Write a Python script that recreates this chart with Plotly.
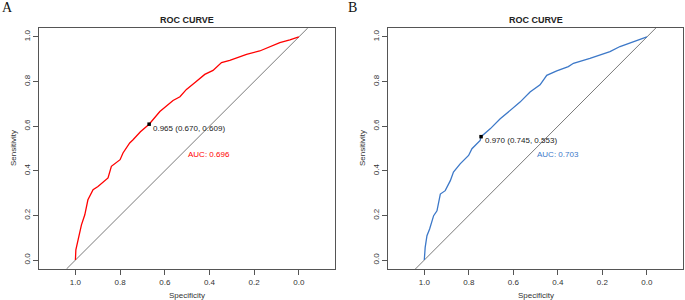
import plotly.graph_objects as go

# ---- data ----
spec_A = [1.0, 0.998, 0.988, 0.973, 0.958, 0.944, 0.921, 0.899, 0.854, 0.839, 0.80, 0.787,
          0.757, 0.742, 0.709, 0.670, 0.622, 0.592, 0.563, 0.532, 0.503, 0.466, 0.421, 0.384,
          0.346, 0.309, 0.234, 0.175, 0.13, 0.085, 0.04, 0.003, 0.0]
sens_A = [0.0, 0.046, 0.091, 0.158, 0.203, 0.27, 0.315, 0.33, 0.368, 0.42, 0.45, 0.48,
          0.525, 0.539, 0.575, 0.609, 0.666, 0.689, 0.715, 0.732, 0.765, 0.795, 0.832, 0.85,
          0.885, 0.895, 0.922, 0.937, 0.955, 0.974, 0.987, 0.997, 1.0]
spec_B = [1.0, 0.996, 0.988, 0.976, 0.958, 0.943, 0.928, 0.906, 0.883, 0.869, 0.839, 0.801,
          0.786, 0.749, 0.745, 0.704, 0.659, 0.614, 0.570, 0.525, 0.480, 0.45, 0.405, 0.353,
          0.330, 0.256, 0.211, 0.166, 0.121, 0.076, 0.031, 0.002, 0.0]
sens_B = [0.0, 0.057, 0.109, 0.139, 0.199, 0.221, 0.296, 0.311, 0.356, 0.394, 0.431, 0.469,
          0.499, 0.536, 0.553, 0.588, 0.633, 0.671, 0.708, 0.753, 0.785, 0.828, 0.848, 0.867,
          0.882, 0.904, 0.919, 0.934, 0.957, 0.972, 0.987, 1.0, 1.0]

best_A = {"thr": 0.965, "spec": 0.670, "sens": 0.609}
best_B = {"thr": 0.970, "spec": 0.745, "sens": 0.553}
auc_A = 0.696
auc_B = 0.703

tick_vals = [1.0, 0.8, 0.6, 0.4, 0.2, 0.0]
tick_text = ["1.0", "0.8", "0.6", "0.4", "0.2", "0.0"]

x_range = [1.163, -0.162]
y_range = [-0.04, 1.04]

RED = "#FF0000"
BLUE = "#3C78C8"
FONT = "Liberation Sans, Arial, sans-serif"

W, H = 685, 300


def px(x):
    return x / W


def py(y):
    return 1 - y / H


fig = go.Figure()

panels = [
    ("x", "y", spec_A, sens_A, best_A, auc_A, RED),
    ("x2", "y2", spec_B, sens_B, best_B, auc_B, BLUE),
]

for xa, ya, sp, se, best, auc, col in panels:
    fig.add_trace(go.Scatter(x=[1 - y_range[0], 1 - y_range[1]], y=y_range,
                             mode="lines", line=dict(color="#7a7a7a", width=1),
                             xaxis=xa, yaxis=ya, hoverinfo="skip"))
    fig.add_trace(go.Scatter(x=sp, y=se, mode="lines", line=dict(color=col, width=1.3),
                             xaxis=xa, yaxis=ya))
    fig.add_trace(go.Scatter(x=[best["spec"]], y=[best["sens"]], mode="markers",
                             marker=dict(color="black", size=3.5, symbol="square"),
                             xaxis=xa, yaxis=ya, cliponaxis=False))
    fig.add_annotation(x=best["spec"], y=best["sens"], xref=xa, yref=ya,
                       text=f"{best['thr']:.3f} ({best['spec']:.3f}, {best['sens']:.3f})",
                       showarrow=False, xanchor="left", yanchor="middle", xshift=2, yshift=-4,
                       font=dict(family=FONT, size=8, color="#222222"))
    fig.add_annotation(x=0.5, y=0.5, xref=xa, yref=ya, text=f"AUC: {auc:.3f}",
                       showarrow=False, xanchor="left", yanchor="top", xshift=-1, yshift=1,
                       font=dict(family=FONT, size=8, color=col))

axis_common = dict(showline=True, mirror=True, linecolor="#555555", linewidth=1,
                   ticks="outside", ticklen=5, tickcolor="#555555", showgrid=False,
                   zeroline=False, tickfont=dict(family=FONT, size=8, color="#333333"),
                   tickvals=tick_vals, ticktext=tick_text, fixedrange=True)

dA = [px(39), px(335)]
dB = [px(388), px(683)]
dy = [py(269), py(28)]

fig.update_layout(
    width=W, height=H, margin=dict(l=0, r=0, t=0, b=0),
    paper_bgcolor="white", plot_bgcolor="white", showlegend=False,
    xaxis=dict(domain=dA, range=x_range, anchor="y", **axis_common),
    yaxis=dict(domain=dy, range=y_range, anchor="x", tickangle=-90, **axis_common),
    xaxis2=dict(domain=dB, range=x_range, anchor="y2", **axis_common),
    yaxis2=dict(domain=dy, range=y_range, anchor="x2", tickangle=-90, **axis_common),
)

for cx, ylab_x, letter, letter_x in [((39 + 335) / 2, 13, "A", 8),
                                     ((388 + 683) / 2, 362, "B", 352)]:
    fig.add_annotation(x=px(cx), y=py(20), xref="paper", yref="paper",
                       text="<b>ROC CURVE</b>", showarrow=False, xanchor="center",
                       yanchor="middle", font=dict(family=FONT, size=9, color="#222222"))
    fig.add_annotation(x=px(cx), y=py(295), xref="paper", yref="paper",
                       text="Specificity", showarrow=False, xanchor="center",
                       yanchor="middle", font=dict(family=FONT, size=8, color="#333333"))
    fig.add_annotation(x=px(ylab_x), y=py(148), xref="paper", yref="paper",
                       text="Sensitivity", showarrow=False, textangle=-90, xanchor="center",
                       yanchor="middle", font=dict(family=FONT, size=8, color="#333333"))
    fig.add_annotation(x=px(letter_x), y=py(8), xref="paper", yref="paper",
                       text=letter, showarrow=False, xanchor="center", yanchor="middle",
                       font=dict(family="Liberation Serif, Times New Roman, serif", size=14,
                                 color="#111111"))

fig.write_html("out.html", config={"displayModeBar": False},
               post_script="document.body.style.margin='0';")
